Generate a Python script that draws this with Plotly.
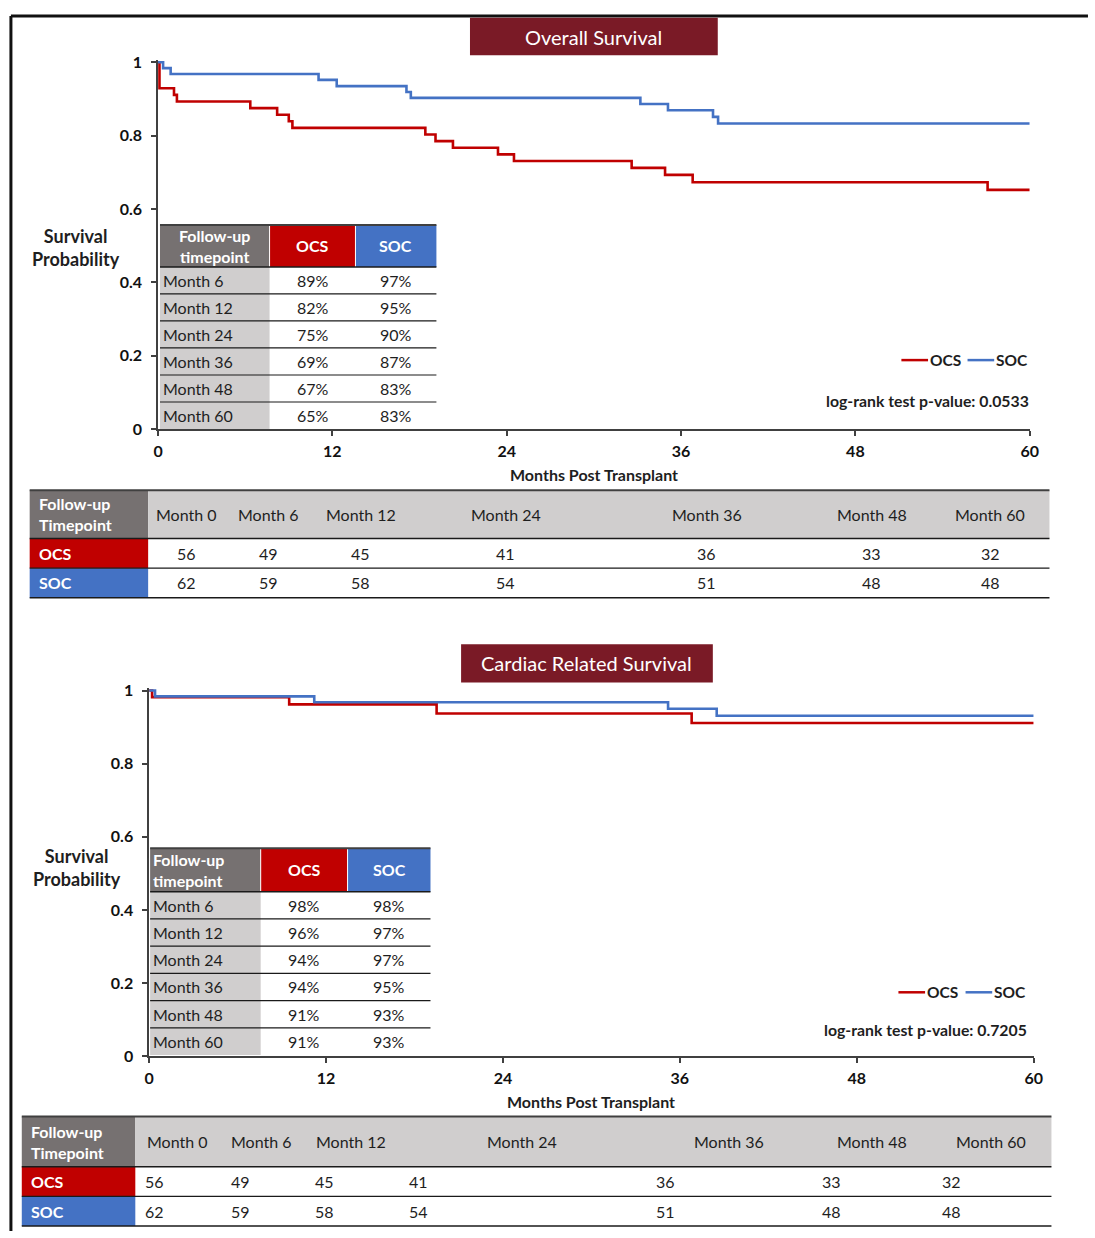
import plotly.graph_objects as go

W, H = 1095, 1238

# ---- Kaplan-Meier step data (months, survival probability after each event) ----
os_ocs_months = [0, 0.1, 1.1, 1.3, 6.35, 8.2, 9.0, 9.25, 18.4, 19.1, 20.3, 23.4, 24.5, 32.6, 34.9, 36.8, 57.1, 60]
os_ocs_surv = [1.0, 0.929, 0.911, 0.893, 0.875, 0.857, 0.839, 0.821, 0.803, 0.785, 0.767, 0.749, 0.731, 0.712, 0.693, 0.673, 0.652, 0.652]

os_soc_months = [0, 0.35, 0.87, 11.05, 12.3, 17.1, 17.4, 33.2, 35.1, 38.2, 38.55, 60]
os_soc_surv = [1.0, 0.984, 0.968, 0.952, 0.935, 0.919, 0.903, 0.886, 0.869, 0.851, 0.833, 0.833]

crs_ocs_months = [0, 0.2, 9.5, 19.5, 36.8, 60]
crs_ocs_surv = [1.0, 0.982, 0.962, 0.937, 0.911, 0.911]

crs_soc_months = [0, 0.4, 11.2, 35.2, 38.5, 60]
crs_soc_surv = [1.0, 0.984, 0.968, 0.950, 0.931, 0.931]

# ---- survival summary tables ----
summary_timepoints = ["Month 6", "Month 12", "Month 24", "Month 36", "Month 48", "Month 60"]
os_ocs_pct = ["89%", "82%", "75%", "69%", "67%", "65%"]
os_soc_pct = ["97%", "95%", "90%", "87%", "83%", "83%"]
crs_ocs_pct = ["98%", "96%", "94%", "94%", "91%", "91%"]
crs_soc_pct = ["98%", "97%", "97%", "95%", "93%", "93%"]

# ---- number at risk ----
risk_timepoints = ["Month 0", "Month 6", "Month 12", "Month 24", "Month 36", "Month 48", "Month 60"]
os_ocs_risk = [56, 49, 45, 41, 36, 33, 32]
os_soc_risk = [62, 59, 58, 54, 51, 48, 48]
crs_ocs_risk = [56, 49, 45, 41, 36, 33, 32]
crs_soc_risk = [62, 59, 58, 54, 51, 48, 48]

os_pvalue = "0.0533"
crs_pvalue = "0.7205"

# ---- styling ----
RED = "#C00000"
BLUE = "#4472C4"
DARKGRAY = "#767171"
LIGHTGRAY = "#D0CECE"
MAROON = "#7A1A26"
TXT = "#1e1e1e"
FONT = "Lato"


def X(p):
    return p / W


def Y(p):
    return 1 - p / H


shapes = []
annotations = []


def rect(x0, y0, x1, y1, fill, line_color=None, lw=0):
    shapes.append(dict(type="rect", xref="paper", yref="paper",
                       x0=X(x0), x1=X(x1), y0=Y(y1), y1=Y(y0),
                       fillcolor=fill,
                       line=dict(color=line_color or fill, width=lw),
                       layer="above"))


def hline(x0, x1, y, color="#1a1a1a", w=1.2):
    shapes.append(dict(type="line", xref="paper", yref="paper",
                       x0=X(x0), x1=X(x1), y0=Y(y), y1=Y(y),
                       line=dict(color=color, width=w), layer="above"))


def vline(x, y0, y1, color, w):
    shapes.append(dict(type="line", xref="paper", yref="paper",
                       x0=X(x), x1=X(x), y0=Y(y0), y1=Y(y1),
                       line=dict(color=color, width=w), layer="above"))


def text(x, y, s, size=15, color=TXT, bold=False, xanchor="center", align="center"):
    annotations.append(dict(xref="paper", yref="paper", x=X(x), y=Y(y),
                            text=f"<b>{s}</b>" if bold else s,
                            showarrow=False, xanchor=xanchor, yanchor="middle",
                            align=align,
                            font=dict(family=FONT, size=size, color=color)))


# outer frame
vline(6, 8, H + 2, "#111111", 3)
hline(6, W + 2, 8, "#111111", 3)


def panel_title(x0, x1, y0, y1, label):
    rect(x0, y0, x1, y1, MAROON)
    text((x0 + x1) / 2, (y0 + y1) / 2, label, size=20, color="white")


panel_title(471, 722, 10, 48, "Overall Survival")
panel_title(462, 717, 645, 684, "Cardiac Related Survival")


def summary_table(x0, c1, c2, x1, top, head_bot, row_h, ocs_vals, soc_vals, head_left):
    bottom = head_bot + row_h * len(summary_timepoints)
    rect(x0, top, c1, head_bot, DARKGRAY)
    rect(c1, top, c2, head_bot, RED)
    rect(c2, top, x1, head_bot, BLUE)
    rect(x0, head_bot, c1, bottom, LIGHTGRAY)
    vline(c1, top, head_bot, "white", 1)
    vline(c2, top, head_bot, "white", 1)
    hline(x0, x1, top, "#404040", 2)
    hline(x0, x1, head_bot, "#1a1a1a", 1.5)
    if head_left:
        text(x0 + 1, (top + head_bot) / 2, "Follow-up<br>timepoint", 16, "white", True, "left", "left")
    else:
        text((x0 + c1) / 2, (top + head_bot) / 2, "Follow-up<br>timepoint", 16, "white", True)
    text((c1 + c2) / 2, (top + head_bot) / 2, "OCS", 16, "white", True)
    text((c2 + x1) / 2, (top + head_bot) / 2, "SOC", 16, "white", True)
    for i, tp in enumerate(summary_timepoints):
        ymid = head_bot + row_h * (i + 0.5)
        if i > 0:
            hline(x0, x1, head_bot + row_h * i, "#1a1a1a", 1.2)
        text(x0 + 1, ymid, tp, 16, TXT, False, "left", "left")
        text((c1 + c2) / 2, ymid, ocs_vals[i], 16)
        text((c2 + x1) / 2, ymid, soc_vals[i], 16)


summary_table(157, 268, 355, 437, 220, 262.5, 27.4, os_ocs_pct, os_soc_pct, False)
summary_table(147, 259, 347, 431, 852, 896, 27.6, crs_ocs_pct, crs_soc_pct, True)


def risk_table(x0, c1, x1, top, head_bot, row_h, head_x, num_x, num_anchor, ocs_vals, soc_vals):
    r1 = head_bot + row_h
    r2 = head_bot + 2 * row_h
    rect(x0, top, c1, head_bot, DARKGRAY)
    rect(c1, top, x1, head_bot, LIGHTGRAY)
    rect(x0, head_bot, c1, r1, RED)
    rect(x0, r1, c1, r2, BLUE)
    hline(x0, x1, top, "#404040", 2)
    hline(x0, x1, head_bot, "#1a1a1a", 1.5)
    hline(x0, x1, r1, "#1a1a1a", 1.2)
    hline(x0, x1, r2, "#1a1a1a", 1.5)
    text(x0 + 7, (top + head_bot) / 2, "Follow-up<br>Timepoint", 16, "white", True, "left", "left")
    text(x0 + 7, (head_bot + r1) / 2, "OCS", 16, "white", True, "left", "left")
    text(x0 + 7, (r1 + r2) / 2, "SOC", 16, "white", True, "left", "left")
    for i, lab in enumerate(risk_timepoints):
        text(head_x[i], (top + head_bot) / 2, lab, 16)
        text(num_x[i], (head_bot + r1) / 2, str(ocs_vals[i]), 16, TXT, False, num_anchor)
        text(num_x[i], (r1 + r2) / 2, str(soc_vals[i]), 16, TXT, False, num_anchor)


risk_table(25, 145, 1058, 489, 538, 30,
           [184, 267, 361, 507, 711, 878, 998],
           [184, 267, 360, 507, 711, 878, 998], "center",
           os_ocs_risk, os_soc_risk)
risk_table(17, 132, 1060, 1124, 1175, 30,
           [175, 260, 350, 524, 733, 878, 999],
           [140, 227, 312, 407, 657, 826, 947], "left",
           crs_ocs_risk, crs_soc_risk)


def legend_and_p(y_leg, x_red, x_blue, y_p, x_p, pval):
    hline(x_red, x_red + 27, y_leg, RED, 2.5)
    text(x_red + 27, y_leg, "OCS", 15.5, TXT, True, "left")
    hline(x_blue, x_blue + 27, y_leg, BLUE, 2.5)
    text(x_blue + 27, y_leg, "SOC", 15.5, TXT, True, "left")
    annotations.append(dict(xref="paper", yref="paper", x=X(x_p), y=Y(y_p),
                            text=f"<b>log-rank test p-value: {pval}</b>",
                            showarrow=False, xanchor="right", yanchor="middle",
                            font=dict(family=FONT, size=15.8, color=TXT)))


legend_and_p(357, 908, 975, 398, 1039, os_pvalue)
legend_and_p(998, 905, 973, 1036, 1037, crs_pvalue)

# axis titles
text(72, 243, "Survival<br>Probability", 18, TXT, True)
text(597, 473, "Months Post Transplant", 16, TXT, True)
text(73, 871, "Survival<br>Probability", 18, TXT, True)
text(594, 1109, "Months Post Transplant", 16, TXT, True)

fig = go.Figure()

fig.add_trace(go.Scatter(x=os_ocs_months, y=os_ocs_surv, mode="lines", line=dict(color=RED, width=2.6, shape="hv"),
                         name="OCS", xaxis="x", yaxis="y"))
fig.add_trace(go.Scatter(x=os_soc_months, y=os_soc_surv, mode="lines", line=dict(color=BLUE, width=2.6, shape="hv"),
                         name="SOC", xaxis="x", yaxis="y"))
fig.add_trace(go.Scatter(x=crs_ocs_months, y=crs_ocs_surv, mode="lines", line=dict(color=RED, width=2.6, shape="hv"),
                         name="OCS", xaxis="x2", yaxis="y2"))
fig.add_trace(go.Scatter(x=crs_soc_months, y=crs_soc_surv, mode="lines", line=dict(color=BLUE, width=2.6, shape="hv"),
                         name="SOC", xaxis="x2", yaxis="y2"))

YTOP = 1.006


def xaxis_cfg(x0, x1, anchor):
    return dict(domain=[X(x0), X(x1)], range=[0, 60], anchor=anchor,
                tickvals=[0, 12, 24, 36, 48, 60], ticks="outside", ticklen=5, tickwidth=1.5,
                tickcolor="#404040", showline=True, linecolor="#404040", linewidth=1.5,
                showgrid=False, zeroline=False, ticklabelstandoff=2,
                tickfont=dict(family=FONT, size=16, color="#111111", weight="bold"))


def yaxis_cfg(y_zero, y_one, anchor):
    top_px = y_zero - YTOP * (y_zero - y_one)
    return dict(domain=[Y(y_zero), Y(top_px)], range=[0, YTOP], anchor=anchor,
                tickvals=[0, 0.2, 0.4, 0.6, 0.8, 1], ticktext=["0", "0.2", "0.4", "0.6", "0.8", "1"],
                ticks="outside", ticklen=5, tickwidth=1.5,
                tickcolor="#404040", showline=True, linecolor="#404040", linewidth=1.5,
                showgrid=False, zeroline=False, ticklabelstandoff=6,
                tickfont=dict(family=FONT, size=16, color="#111111", weight="bold"))


fig.update_layout(
    width=W, height=H,
    margin=dict(l=0, r=0, t=0, b=0),
    paper_bgcolor="white", plot_bgcolor="white",
    showlegend=False,
    xaxis=xaxis_cfg(155, 1038, "y"),
    yaxis=yaxis_cfg(427, 55, "x"),
    xaxis2=xaxis_cfg(146, 1042, "y2"),
    yaxis2=yaxis_cfg(1063, 692, "x2"),
    shapes=shapes,
    annotations=annotations,
    font=dict(family=FONT, color=TXT),
)

fig.write_html("out.html")
